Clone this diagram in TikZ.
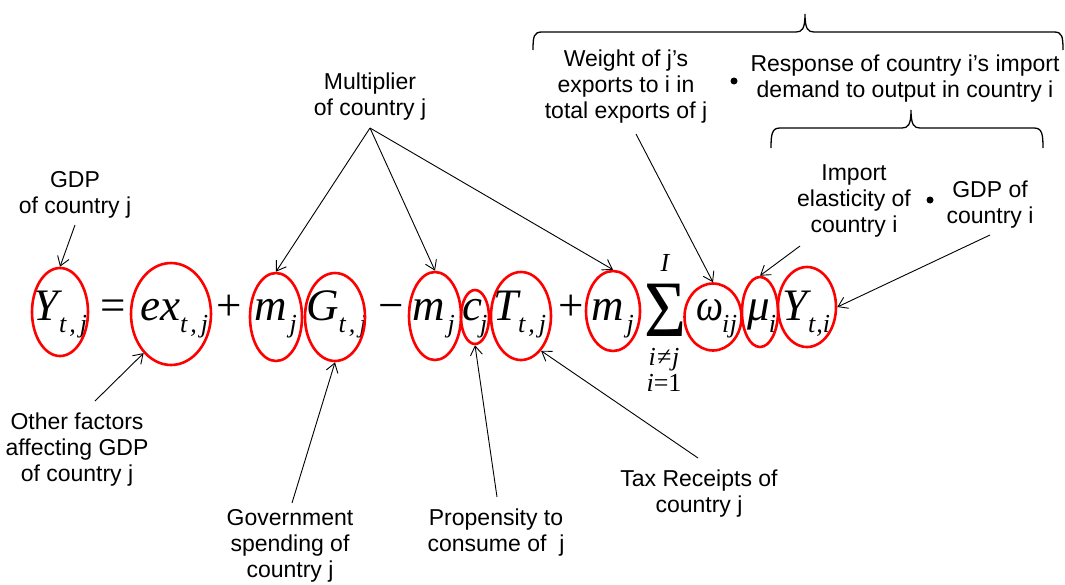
\documentclass[tikz,border=0pt]{standalone}
\usepackage{fontspec}
\usepackage{graphicx}
\setmainfont{Liberation Sans}
\newfontfamily\eqfont{Liberation Serif}
\usetikzlibrary{arrows.meta,shapes.geometric}
\newcommand\ssb[1]{\raisebox{-12pt}{\fontsize{26}{26}\selectfont\itshape #1}}
\begin{document}
\begin{tikzpicture}[x=1pt,y=-1pt,
  lbl/.style={font=\fontsize{23}{26}\selectfont, align=center, inner sep=0pt},
  eq/.style={font=\fontsize{45}{45}\selectfont\eqfont\itshape, anchor=base west, inner sep=0pt},
  op/.style={font=\fontsize{45}{45}\selectfont\eqfont, anchor=base west, inner sep=0pt},
  lim/.style={font=\fontsize{26}{26}\selectfont\eqfont\itshape, inner sep=0pt},
  ring/.style 2 args={ellipse, draw=red, line width=2.6pt, inner sep=0pt, minimum width=#1, minimum height=#2},
  arr/.style={-{Straight Barb[length=9pt,width=12pt]}, line width=0.9pt},
  brace/.style={line width=1.3pt},
  dot/.style={circle, fill=black, inner sep=0pt, minimum size=7pt}]
\fill[white] (0,0) rectangle (1065,584);
\useasboundingbox (0,0) rectangle (1065,584);

% equation glyphs
\node[eq] (tY) at (33,320) {Y\kern1pt\ssb{t\kern3pt,\kern4pt j}};
\node[op] (teq) at (100,320) {=};
\node[eq] (tex) at (140,320) {ex\ssb{t\kern3pt,\kern4pt j}};
\node[op] (tp1) at (216,320) {+};
\node[eq] (tm1) at (254,320) {m\kern3pt\ssb{j}};
\node[eq] (tG) at (306,320) {G\ssb{t\kern3pt,\kern4pt j}};
\node[op] (tmi) at (378,320) {−};
\node[eq] (tm2) at (412,320) {m\kern3pt\ssb{j}};
\node[eq] (tc) at (462,320) {c\kern-2pt\ssb{j}};
\node[eq] (tT) at (493,320) {T\ssb{t\kern3pt,\kern4pt j}};
\node[op] (tp2) at (558,320) {+};
\node[eq] (tm3) at (591,320) {m\kern3pt\ssb{j}};
\node[font=\fontsize{80}{80}\selectfont\eqfont, inner sep=0pt, text height=53pt, text depth=0pt] (sig) at (665,310) {\scalebox{0.9}[1]{Σ}};
\node[lim] (lt) at (665,263) {I};
\node[lim] (lb1) at (664,360) {i\kern1pt≠\kern1pt j};
\node[lim] (lb2) at (664,383) {i\upshape=1};
\node[eq] (tom) at (696,320) {\scalebox{0.85}[1]{ω}\kern-1pt\ssb{i\kern0.5pt j}};
\node[eq] (tmu) at (747,320) {μ\kern-1pt\ssb{i}};
\node[eq] (tYi) at (782,320) {Y\kern1pt\ssb{t\kern1pt,i}};

% red rings
\node[ring={56}{88}] (eY) at (60,312) {};
\node[ring={80}{102}] (eex) at (171,314) {};
\node[ring={52}{88}] (em1) at (276,317) {};
\node[ring={60}{88}] (eG) at (335,317) {};
\node[ring={52}{88}] (em2) at (435,316) {};
\node[ring={28}{54}] (ec) at (475,317) {};
\node[ring={60}{88}] (eT) at (521,316) {};
\node[ring={54}{80}] (em3) at (613,311) {};
\node[ring={57}{67}] (eom) at (713,317) {};
\node[ring={36}{70}] (emu) at (760,312) {};
\node[ring={58}{80}] (eYi) at (807,307) {};

% labels
\node[lbl] (gdpj) at (75,195) {GDP\\of country j};
\node[lbl] (mult) at (370,97) {Multiplier\\of country j};
\node[lbl] (other) at (77,450) {Other factors\\affecting GDP\\of country j};
\node[lbl] (gov) at (290,546) {Government\\spending of\\country j};
\node[lbl] (prop) at (496,533) {Propensity to\\consume of\ \ j};
\node[lbl] (tax) at (699,494) {Tax Receipts of\\country j};
\node[lbl] (weight) at (626,87) {Weight of j’s\\exports to i in\\total exports of j};
\node[lbl] (resp) at (905,79) {Response of country i’s import\\demand to output in country i};
\node[lbl] (imp) at (854,201) {Import\\elasticity of\\country i};
\node[lbl] (gdpi) at (990,205) {GDP of\\country i};
\node[dot] (b1) at (734,81) {};
\node[dot] (b2) at (930,200) {};

% braces
\draw[brace] (533,50) .. controls (533,36) and (534,32) .. (542,32) -- (796,32)
  .. controls (802,32) and (805,29) .. (805,14)
  .. controls (805,29) and (808,32) .. (814,32) -- (1054,32)
  .. controls (1062,32) and (1063,36) .. (1063,50);
\draw[brace] (771,148) .. controls (771,134) and (772,128) .. (780,128) -- (902,128)
  .. controls (908,128) and (911,125) .. (911,110)
  .. controls (911,125) and (914,128) .. (920,128) -- (1034,128)
  .. controls (1042,128) and (1043,134) .. (1043,148);

% connectors
\coordinate (o-mult) at (370,128);
\coordinate (o-gdpj) at (75,225);
\coordinate (o-other) at (95,401);
\coordinate (o-gov) at (292,503);
\coordinate (o-prop) at (497,497);
\coordinate (o-tax) at (698,458);
\coordinate (o-w) at (636,134);
\coordinate (o-imp) at (800,246);
\coordinate (o-gdpi) at (990,235);
\draw[arr] (o-mult) -- (em1.north);
\draw[arr] (o-mult) -- (em2.north);
\draw[arr] (o-mult) -- (em3.north);
\draw[arr] (o-gdpj) -- (eY.north);
\draw[arr] (o-other) -- (eex.-125);
\draw[arr] (o-gov) -- (eG.south);
\draw[arr] (o-prop) -- (ec.south);
\draw[arr] (o-tax) -- (eT.-60);
\draw[arr] (o-w) -- (eom.north);
\draw[arr] (o-imp) -- (emu.north);
\draw[arr] (o-gdpi) -- (eYi.east);
\end{tikzpicture}
\end{document}
